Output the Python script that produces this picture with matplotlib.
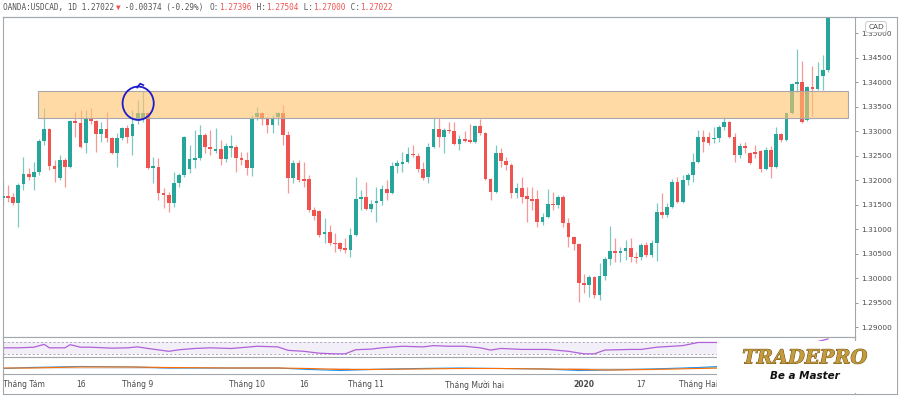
import numpy as np
import pandas as pd
import matplotlib
matplotlib.use('Agg')
import matplotlib.pyplot as plt
from matplotlib.patches import Rectangle, Ellipse
from matplotlib.lines import Line2D
import matplotlib.patheffects as pe

# daily USDCAD candles, 2019-07-26 .. 2020-03-09
opens = [
    1.3163, 1.3167, 1.3165, 1.3153, 1.3192, 1.3212, 1.3206, 1.3216, 1.3280, 1.3304,
    1.3229, 1.3204, 1.3241, 1.3227, 1.3320, 1.3316, 1.3276, 1.3324, 1.3320, 1.3294,
    1.3304, 1.3286, 1.3255, 1.3286, 1.3306, 1.3290, 1.3322, 1.3327, 1.3337, 1.3224,
    1.3227, 1.3173, 1.3169, 1.3153, 1.3194, 1.3210, 1.3222, 1.3241, 1.3245, 1.3292,
    1.3267, 1.3259, 1.3263, 1.3243, 1.3265, 1.3267, 1.3245, 1.3241, 1.3224, 1.3329,
    1.3337, 1.3327, 1.3312, 1.3329, 1.3337, 1.3292, 1.3204, 1.3235, 1.3202, 1.3202,
    1.3139, 1.3137, 1.3090, 1.3094, 1.3071, 1.3071, 1.3061, 1.3057, 1.3088, 1.3161,
    1.3165, 1.3141, 1.3153, 1.3157, 1.3182, 1.3173, 1.3229, 1.3233, 1.3237, 1.3253,
    1.3249, 1.3222, 1.3206, 1.3267, 1.3304, 1.3288, 1.3302, 1.3300, 1.3273, 1.3284,
    1.3282, 1.3278, 1.3310, 1.3296, 1.3202, 1.3176, 1.3255, 1.3239, 1.3231, 1.3173,
    1.3184, 1.3167, 1.3161, 1.3161, 1.3114, 1.3124, 1.3151, 1.3149, 1.3165, 1.3112,
    1.3084, 1.3069, 1.2990, 1.2986, 1.3002, 1.2965, 1.3004, 1.3039, 1.3055, 1.3051,
    1.3055, 1.3061, 1.3043, 1.3043, 1.3067, 1.3047, 1.3071, 1.3135, 1.3129, 1.3145,
    1.3196, 1.3155, 1.3200, 1.3210, 1.3237, 1.3288, 1.3288, 1.3284, 1.3286, 1.3308,
    1.3318, 1.3288, 1.3251, 1.3269, 1.3255, 1.3257, 1.3259, 1.3222, 1.3261, 1.3227,
    1.3294, 1.3282, 1.3337, 1.3396, 1.3400, 1.3322, 1.3390, 1.3386, 1.3412, 1.3424,
]
highs = [
    1.3196, 1.3190, 1.3173, 1.3194, 1.3247, 1.3224, 1.3237, 1.3284, 1.3347, 1.3306,
    1.3241, 1.3251, 1.3245, 1.3322, 1.3339, 1.3343, 1.3343, 1.3347, 1.3322, 1.3318,
    1.3339, 1.3288, 1.3296, 1.3308, 1.3312, 1.3343, 1.3363, 1.3382, 1.3339, 1.3247,
    1.3245, 1.3184, 1.3176, 1.3216, 1.3214, 1.3290, 1.3271, 1.3302, 1.3312, 1.3296,
    1.3302, 1.3306, 1.3282, 1.3276, 1.3292, 1.3271, 1.3257, 1.3257, 1.3333, 1.3349,
    1.3339, 1.3329, 1.3333, 1.3339, 1.3353, 1.3300, 1.3241, 1.3241, 1.3237, 1.3210,
    1.3145, 1.3139, 1.3122, 1.3108, 1.3092, 1.3073, 1.3082, 1.3102, 1.3206, 1.3180,
    1.3196, 1.3159, 1.3186, 1.3190, 1.3200, 1.3237, 1.3241, 1.3257, 1.3267, 1.3271,
    1.3255, 1.3237, 1.3276, 1.3329, 1.3327, 1.3306, 1.3318, 1.3318, 1.3292, 1.3300,
    1.3314, 1.3312, 1.3324, 1.3298, 1.3204, 1.3271, 1.3265, 1.3247, 1.3235, 1.3194,
    1.3206, 1.3186, 1.3186, 1.3180, 1.3133, 1.3182, 1.3176, 1.3169, 1.3169, 1.3122,
    1.3086, 1.3071, 1.3008, 1.3006, 1.3004, 1.3031, 1.3043, 1.3106, 1.3082, 1.3063,
    1.3078, 1.3082, 1.3053, 1.3071, 1.3073, 1.3078, 1.3153, 1.3173, 1.3153, 1.3202,
    1.3206, 1.3210, 1.3214, 1.3255, 1.3302, 1.3302, 1.3298, 1.3308, 1.3312, 1.3329,
    1.3320, 1.3296, 1.3276, 1.3278, 1.3257, 1.3271, 1.3261, 1.3267, 1.3269, 1.3308,
    1.3296, 1.3339, 1.3398, 1.3467, 1.3443, 1.3392, 1.3433, 1.3441, 1.3455, 1.3700,
]
lows = [
    1.3149, 1.3155, 1.3149, 1.3104, 1.3180, 1.3200, 1.3180, 1.3210, 1.3271, 1.3220,
    1.3196, 1.3200, 1.3186, 1.3224, 1.3288, 1.3265, 1.3255, 1.3314, 1.3257, 1.3278,
    1.3278, 1.3253, 1.3227, 1.3282, 1.3276, 1.3251, 1.3314, 1.3318, 1.3222, 1.3194,
    1.3159, 1.3143, 1.3135, 1.3145, 1.3186, 1.3206, 1.3214, 1.3224, 1.3241, 1.3255,
    1.3251, 1.3255, 1.3231, 1.3237, 1.3247, 1.3216, 1.3231, 1.3210, 1.3208, 1.3322,
    1.3312, 1.3296, 1.3296, 1.3312, 1.3271, 1.3173, 1.3194, 1.3196, 1.3186, 1.3135,
    1.3118, 1.3084, 1.3071, 1.3067, 1.3053, 1.3055, 1.3051, 1.3043, 1.3086, 1.3139,
    1.3139, 1.3135, 1.3114, 1.3149, 1.3159, 1.3171, 1.3214, 1.3216, 1.3235, 1.3247,
    1.3216, 1.3200, 1.3194, 1.3265, 1.3267, 1.3255, 1.3296, 1.3271, 1.3261, 1.3278,
    1.3276, 1.3276, 1.3292, 1.3200, 1.3159, 1.3173, 1.3227, 1.3220, 1.3163, 1.3163,
    1.3153, 1.3114, 1.3139, 1.3104, 1.3108, 1.3122, 1.3139, 1.3143, 1.3104, 1.3063,
    1.3057, 1.2951, 1.2969, 1.2961, 1.2959, 1.2955, 1.2996, 1.3027, 1.3033, 1.3033,
    1.3037, 1.3033, 1.3031, 1.3037, 1.3043, 1.3043, 1.3035, 1.3122, 1.3124, 1.3143,
    1.3153, 1.3153, 1.3190, 1.3196, 1.3235, 1.3257, 1.3271, 1.3276, 1.3278, 1.3302,
    1.3286, 1.3237, 1.3245, 1.3255, 1.3233, 1.3245, 1.3216, 1.3220, 1.3204, 1.3224,
    1.3278, 1.3280, 1.3335, 1.3380, 1.3316, 1.3320, 1.3331, 1.3384, 1.3384, 1.3420,
]
closes = [
    1.3167, 1.3163, 1.3153, 1.3190, 1.3212, 1.3206, 1.3216, 1.3280, 1.3304, 1.3229,
    1.3222, 1.3241, 1.3227, 1.3320, 1.3316, 1.3267, 1.3324, 1.3320, 1.3294, 1.3304,
    1.3286, 1.3255, 1.3286, 1.3306, 1.3288, 1.3314, 1.3337, 1.3337, 1.3224, 1.3229,
    1.3173, 1.3169, 1.3153, 1.3194, 1.3210, 1.3288, 1.3243, 1.3245, 1.3292, 1.3267,
    1.3263, 1.3263, 1.3243, 1.3269, 1.3269, 1.3245, 1.3241, 1.3224, 1.3327, 1.3337,
    1.3327, 1.3312, 1.3327, 1.3337, 1.3292, 1.3204, 1.3235, 1.3200, 1.3198, 1.3139,
    1.3127, 1.3088, 1.3094, 1.3071, 1.3069, 1.3059, 1.3057, 1.3088, 1.3161, 1.3165,
    1.3141, 1.3151, 1.3157, 1.3182, 1.3173, 1.3229, 1.3235, 1.3237, 1.3253, 1.3251,
    1.3222, 1.3204, 1.3267, 1.3304, 1.3288, 1.3302, 1.3300, 1.3273, 1.3284, 1.3280,
    1.3278, 1.3310, 1.3296, 1.3202, 1.3176, 1.3255, 1.3239, 1.3231, 1.3173, 1.3184,
    1.3165, 1.3161, 1.3157, 1.3114, 1.3124, 1.3151, 1.3149, 1.3165, 1.3112, 1.3084,
    1.3069, 1.2990, 1.2986, 1.3002, 1.2965, 1.3004, 1.3039, 1.3055, 1.3051, 1.3055,
    1.3061, 1.3043, 1.3041, 1.3067, 1.3047, 1.3071, 1.3135, 1.3129, 1.3145, 1.3196,
    1.3155, 1.3200, 1.3210, 1.3237, 1.3288, 1.3278, 1.3276, 1.3286, 1.3308, 1.3318,
    1.3288, 1.3251, 1.3269, 1.3265, 1.3235, 1.3253, 1.3222, 1.3261, 1.3227, 1.3294,
    1.3282, 1.3337, 1.3396, 1.3400, 1.3318, 1.3390, 1.3386, 1.3412, 1.3424, 1.3650,
]

# resistance zone and the circled test
zone_low, zone_high = 1.3327, 1.3382
zone_start, zone_end = 6.8, 162.9
circled_candle = 26

# RSI panel (candle index, value)
rsi_idx = [0, 3, 6, 8, 9, 12, 13, 15, 17, 21, 24, 26, 28, 32, 34, 37, 40, 44, 47, 49,
           53, 55, 58, 61, 64, 66, 68, 71, 73, 77, 81, 83, 86, 89, 92, 94, 96, 100, 105,
           109, 112, 114, 116, 121, 123, 126, 131, 134, 138, 146, 152, 154, 159]
rsi_val = [50, 50, 52, 61, 50, 50, 60, 52, 52, 49, 50, 53, 48, 39, 44, 48, 50, 48, 52, 55,
           53, 42, 39, 33, 31, 31, 44, 46, 50, 55, 53, 57, 55, 55, 50, 43, 48, 45, 45,
           39, 31, 31, 43, 45, 45, 52, 57, 67, 67, 55, 70, 58, 78]

# MACD panel (candle index, macd, signal)
macd_idx = [0, 5, 15, 25, 32, 44, 53, 59, 65, 71, 80, 88, 96, 104, 111, 117, 125, 134, 138]
macd_line = [-0.00025, 0.00025, 0.00075, 0.0005, 0.0, 0.0, 0.0, -0.00075, -0.00125, -0.00075,
             -0.00025, 0.0, -0.00025, -0.0005, -0.00125, -0.001, -0.0005, 0.00025, 0.00075]
signal_line = [0.0, 0.0, 0.0005, 0.0005, 0.00025, 0.0, 0.0, -0.00025, -0.00075, -0.00075,
               -0.0005, -0.00025, -0.00025, -0.0005, -0.00075, -0.001, -0.00075, -0.00025, 0.0]

tick_dates = ['2019-08-01', '2019-08-16', '2019-09-02', '2019-10-01', '2019-10-16',
              '2019-11-01', '2019-12-02', '2020-01-02', '2020-01-17', '2020-02-03']
tick_labels = ['Tháng Tám', '16', 'Tháng 9', 'Tháng 10', '16', 'Tháng 11',
               'Tháng Mười hai', '2020', '17', 'Tháng Hai']

GREEN = '#26a69a'
RED = '#ef5350'
FRAME = '#a3a6ad'
TEXT = '#4a4a4a'

W, H = 900, 397
fig = plt.figure(figsize=(W / 100, H / 100), dpi=100)


def fx(px):
    return px / W


def fy(py):
    return 1 - py / H


ax = fig.add_axes([fx(3), fy(337), fx(855) - fx(3), fy(17) - fy(337)])
ax_rsi = fig.add_axes([fx(3), fy(357), fx(855) - fx(3), fy(337) - fy(357)], sharex=ax)
ax_macd = fig.add_axes([fx(3), fy(374), fx(855) - fx(3), fy(357) - fy(374)], sharex=ax)

# trading days (OANDA had no candle on Christmas / New Year)
dates = pd.bdate_range('2019-07-26', '2020-03-20')
dates = dates[~dates.isin(pd.to_datetime(['2019-12-25', '2020-01-01']))][:len(closes)]

o = np.array(opens)
h = np.array(highs)
l = np.array(lows)
c = np.array(closes)
x = np.arange(len(c))
cols = np.where(c >= o, GREEN, RED)

ax.vlines(x, l, h, colors=cols, lw=0.9, alpha=0.6, zorder=2)
body = np.maximum(np.abs(c - o), 0.00008)
ax.bar(x, body, bottom=np.minimum(o, c), width=0.72, color=cols, lw=0, zorder=3)

ax.add_patch(Rectangle((zone_start, zone_low), zone_end - zone_start, zone_high - zone_low,
                       facecolor=(1.0, 0.77, 0.43, 0.62), edgecolor='#a8a8ac', lw=0.8, zorder=5))

# hand drawn circle around the rejected test
ax.add_patch(Ellipse((circled_candle + 0.1, 1.3357), 6.0, 0.0068, fill=False,
                     ec='#1c1ccc', lw=1.3, zorder=6))
ax.plot([circled_candle - 0.1, circled_candle + 0.5, circled_candle + 1.1],
        [1.3389, 1.3397, 1.3394], color='#1c1ccc', lw=1.2, zorder=6)

ax.set_xlim(0.06, 164.2)
ax.set_ylim(1.2880, 1.3533)
ax.yaxis.tick_right()
ax.set_yticks(np.arange(1.29, 1.3501, 0.005))
ax.set_yticklabels(['{:.5f}'.format(v) for v in np.arange(1.29, 1.3501, 0.005)])
ax.tick_params(axis='y', length=2.5, width=0.6, color='#888888', labelsize=5.3,
               labelcolor=TEXT, pad=2)
ax.tick_params(axis='x', bottom=False, labelbottom=False)

# RSI
ax_rsi.axhspan(30, 70, color='#7e57c2', alpha=0.09, lw=0)
for lvl in (30, 70):
    ax_rsi.axhline(lvl, color='#a0a0ae', lw=0.6, ls=(0, (2.5, 2.5)))
ax_rsi.plot(rsi_idx, rsi_val, color='#b060d8', lw=0.9)
ax_rsi.set_ylim(21, 84.3)
ax_rsi.tick_params(left=False, right=False, labelleft=False, bottom=False, labelbottom=False)

# MACD
hist = np.array(macd_line) - np.array(signal_line)
ax_macd.bar(macd_idx, hist, width=4, color=np.where(hist >= 0, '#b2dfdb', '#ffcdd2'), lw=0)
ax_macd.axhline(0, color='#d0d0d0', lw=0.4)
ax_macd.plot(macd_idx, macd_line, color='#2196f3', lw=0.8)
ax_macd.plot(macd_idx, signal_line, color='#ff6d00', lw=0.8)
ax_macd.set_ylim(-0.003, 0.0055)
ax_macd.tick_params(left=False, right=False, labelleft=False)

tick_pos = dates.get_indexer(pd.to_datetime(tick_dates))
ax_macd.set_xticks(tick_pos)
ax_macd.set_xticklabels(tick_labels)
ax_macd.tick_params(axis='x', length=0, pad=4.5, labelsize=5.5, labelcolor=TEXT)
for t in ax_macd.get_xticklabels():
    if t.get_text() == '2020':
        t.set_fontweight('bold')

for a in (ax, ax_rsi, ax_macd):
    for s in a.spines.values():
        s.set_color(FRAME)
        s.set_linewidth(0.8)

# outer frame of the screenshot
for (x0, y0, x1, y1) in [(3, 17, 897, 17), (897, 17, 897, 394), (3, 394, 897, 394),
                         (3, 374, 3, 394), (855, 337, 855, 394)]:
    fig.add_artist(Line2D([fx(x0), fx(x1)], [fy(y0), fy(y1)], color=FRAME, lw=0.8,
                          transform=fig.transFigure))

# header
dark = '#555555'
segs = [('OANDA:USDCAD, 1D 1.27022', dark), ('▼', RED), (' -0.00374 (-0.29%) ', dark),
        ('O:', dark), ('1.27396', RED), (' H:', dark), ('1.27504', RED),
        (' L:', dark), ('1.27000', RED), (' C:', dark), ('1.27022', RED)]
cw = 4.7
pos = 0
for txt, col in segs:
    fig.text(fx(3 + pos * cw), fy(7.5), txt, family='DejaVu Sans Mono', fontsize=5.6,
             color=col, ha='left', va='center')
    pos += len(txt)

fig.text(fx(876), fy(27), 'CAD', fontsize=5.3, color=TEXT, ha='center', va='center',
         bbox=dict(boxstyle='round,pad=0.35', fc='white', ec='#c4c4c4', lw=0.6), zorder=12)

# logo
fig.add_artist(Rectangle((fx(717), fy(393)), fx(897) - fx(717), fy(341) - fy(393),
                         transform=fig.transFigure, facecolor='white', edgecolor='none',
                         zorder=10))
fig.text(fx(805), fy(358.5), 'TRADEPRO', family='DejaVu Serif', fontsize=14,
         weight='bold', style='italic', color='#c49a3c', ha='center', va='center',
         zorder=11, path_effects=[pe.withStroke(linewidth=0.7, foreground='#6b4e12')])
fig.text(fx(805), fy(376), 'Be a Master', fontsize=7.5, weight='bold', style='italic',
         color='#111111', ha='center', va='center', zorder=11)

fig.savefig('out.png', dpi=100)
